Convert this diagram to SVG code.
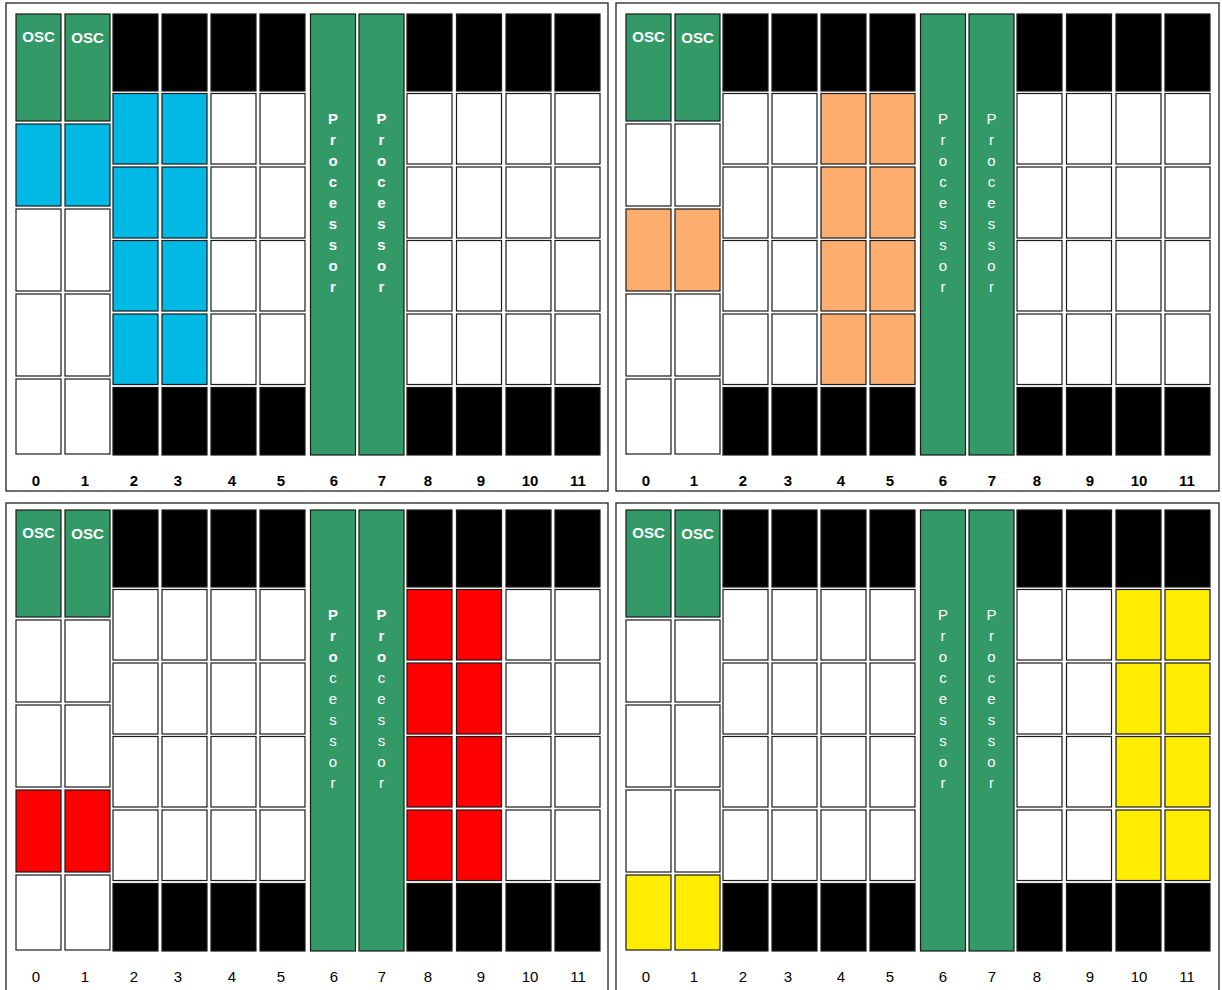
<svg xmlns="http://www.w3.org/2000/svg" width="1222" height="990" viewBox="0 0 1222 990">
<style>
.frame{fill:#fff;stroke:#222;stroke-width:1.3}
.c{stroke:#1a1a1a;stroke-width:1.2}
.w{fill:#fff}
.k{fill:#000}
.g{fill:#339966}
.b{fill:#00b9e4}
.o{fill:#fdae6f}
.r{fill:#ff0000}
.y{fill:#ffed00}
text{font-family:"Liberation Sans",Arial,sans-serif;font-size:15px;text-anchor:middle}
.osc{fill:#fff;font-weight:bold}
.pb{fill:#fff;font-weight:bold}
.pn{fill:#fff;font-weight:normal}
.lb{fill:#000;font-weight:bold}
.ln{fill:#000;font-weight:normal}
</style>
<defs>
<g id="procB">
<text class="pb" y="124">P</text><text class="pb" y="145">r</text><text class="pb" y="166">o</text><text class="pb" y="187">c</text><text class="pb" y="208">e</text><text class="pb" y="229">s</text><text class="pb" y="250">s</text><text class="pb" y="271">o</text><text class="pb" y="292">r</text>
</g>
<g id="procN">
<text class="pn" y="124">P</text><text class="pn" y="145">r</text><text class="pn" y="166">o</text><text class="pn" y="187">c</text><text class="pn" y="208">e</text><text class="pn" y="229">s</text><text class="pn" y="250">s</text><text class="pn" y="271">o</text><text class="pn" y="292">r</text>
</g>
<g id="procM">
<text class="pb" y="124">P</text><text class="pb" y="145">r</text><text class="pb" y="166">o</text><text class="pn" y="187">c</text><text class="pn" y="208">e</text><text class="pn" y="229">s</text><text class="pn" y="250">s</text><text class="pn" y="271">o</text><text class="pn" y="292">r</text>
</g>
<g id="blackrows">
<rect class="c k" x="113" y="14" width="45" height="77"/><rect class="c k" x="162" y="14" width="45" height="77"/><rect class="c k" x="211" y="14" width="45" height="77"/><rect class="c k" x="260" y="14" width="45" height="77"/>
<rect class="c k" x="407" y="14" width="45" height="77"/><rect class="c k" x="456.5" y="14" width="45" height="77"/><rect class="c k" x="506" y="14" width="45" height="77"/><rect class="c k" x="555" y="14" width="45" height="77"/>
<rect class="c k" x="113" y="387.5" width="45" height="67.5"/><rect class="c k" x="162" y="387.5" width="45" height="67.5"/><rect class="c k" x="211" y="387.5" width="45" height="67.5"/><rect class="c k" x="260" y="387.5" width="45" height="67.5"/>
<rect class="c k" x="407" y="387.5" width="45" height="67.5"/><rect class="c k" x="456.5" y="387.5" width="45" height="67.5"/><rect class="c k" x="506" y="387.5" width="45" height="67.5"/><rect class="c k" x="555" y="387.5" width="45" height="67.5"/>
<rect class="c g" x="16" y="14" width="45" height="107"/><rect class="c g" x="65" y="14" width="45" height="107"/>
<text class="osc" x="38.5" y="42">OSC</text><text class="osc" x="87.5" y="43">OSC</text>
<rect class="c g" x="310.5" y="14" width="45" height="441"/><rect class="c g" x="359" y="14" width="45" height="441"/>
</g>
</defs>

<rect class="frame" x="6" y="3" width="602" height="488"/>
<rect class="frame" x="616" y="3" width="603" height="488"/>
<rect class="frame" x="6" y="503" width="602" height="500"/>
<rect class="frame" x="616" y="503" width="603" height="500"/>

<!-- Panel top-left -->
<g id="panel-tl">
<use href="#blackrows"/>
<g id="tl-proc6"><use href="#procB" x="333"/></g>
<g id="tl-proc7"><use href="#procB" x="381.5"/></g>
<rect class="c b" x="16" y="124" width="45" height="82"/><rect class="c b" x="65" y="124" width="45" height="82"/>
<rect class="c w" x="16" y="209" width="45" height="82"/><rect class="c w" x="65" y="209" width="45" height="82"/>
<rect class="c w" x="16" y="294" width="45" height="82"/><rect class="c w" x="65" y="294" width="45" height="82"/>
<rect class="c w" x="16" y="379" width="45" height="75"/><rect class="c w" x="65" y="379" width="45" height="75"/>
<g>
<rect class="c b" x="113" y="93.5" width="45" height="70.5"/><rect class="c b" x="162" y="93.5" width="45" height="70.5"/><rect class="c w" x="211" y="93.5" width="45" height="70.5"/><rect class="c w" x="260" y="93.5" width="45" height="70.5"/>
<rect class="c w" x="407" y="93.5" width="45" height="70.5"/><rect class="c w" x="456.5" y="93.5" width="45" height="70.5"/><rect class="c w" x="506" y="93.5" width="45" height="70.5"/><rect class="c w" x="555" y="93.5" width="45" height="70.5"/>
<rect class="c b" x="113" y="167" width="45" height="71"/><rect class="c b" x="162" y="167" width="45" height="71"/><rect class="c w" x="211" y="167" width="45" height="71"/><rect class="c w" x="260" y="167" width="45" height="71"/>
<rect class="c w" x="407" y="167" width="45" height="71"/><rect class="c w" x="456.5" y="167" width="45" height="71"/><rect class="c w" x="506" y="167" width="45" height="71"/><rect class="c w" x="555" y="167" width="45" height="71"/>
<rect class="c b" x="113" y="240.5" width="45" height="70.5"/><rect class="c b" x="162" y="240.5" width="45" height="70.5"/><rect class="c w" x="211" y="240.5" width="45" height="70.5"/><rect class="c w" x="260" y="240.5" width="45" height="70.5"/>
<rect class="c w" x="407" y="240.5" width="45" height="70.5"/><rect class="c w" x="456.5" y="240.5" width="45" height="70.5"/><rect class="c w" x="506" y="240.5" width="45" height="70.5"/><rect class="c w" x="555" y="240.5" width="45" height="70.5"/>
<rect class="c b" x="113" y="314" width="45" height="70.5"/><rect class="c b" x="162" y="314" width="45" height="70.5"/><rect class="c w" x="211" y="314" width="45" height="70.5"/><rect class="c w" x="260" y="314" width="45" height="70.5"/>
<rect class="c w" x="407" y="314" width="45" height="70.5"/><rect class="c w" x="456.5" y="314" width="45" height="70.5"/><rect class="c w" x="506" y="314" width="45" height="70.5"/><rect class="c w" x="555" y="314" width="45" height="70.5"/>
</g>
<g class="labels">
<text class="lb" x="36" y="486">0</text><text class="lb" x="85" y="486">1</text><text class="lb" x="134" y="486">2</text><text class="lb" x="178" y="486">3</text><text class="lb" x="232" y="486">4</text><text class="lb" x="281" y="486">5</text><text class="lb" x="334" y="486">6</text><text class="lb" x="382" y="486">7</text><text class="lb" x="428" y="486">8</text><text class="lb" x="481" y="486">9</text><text class="lb" x="530" y="486">10</text><text class="lb" x="578" y="486">11</text>
</g>
</g>

<!-- Panel top-right -->
<g id="panel-tr" transform="translate(610,0)">
<use href="#blackrows"/>
<g id="tr-proc6"><use href="#procN" x="333"/></g>
<g id="tr-proc7"><use href="#procN" x="381.5"/></g>
<rect class="c w" x="16" y="124" width="45" height="82"/><rect class="c w" x="65" y="124" width="45" height="82"/>
<rect class="c o" x="16" y="209" width="45" height="82"/><rect class="c o" x="65" y="209" width="45" height="82"/>
<rect class="c w" x="16" y="294" width="45" height="82"/><rect class="c w" x="65" y="294" width="45" height="82"/>
<rect class="c w" x="16" y="379" width="45" height="75"/><rect class="c w" x="65" y="379" width="45" height="75"/>
<g>
<rect class="c w" x="113" y="93.5" width="45" height="70.5"/><rect class="c w" x="162" y="93.5" width="45" height="70.5"/><rect class="c o" x="211" y="93.5" width="45" height="70.5"/><rect class="c o" x="260" y="93.5" width="45" height="70.5"/>
<rect class="c w" x="407" y="93.5" width="45" height="70.5"/><rect class="c w" x="456.5" y="93.5" width="45" height="70.5"/><rect class="c w" x="506" y="93.5" width="45" height="70.5"/><rect class="c w" x="555" y="93.5" width="45" height="70.5"/>
<rect class="c w" x="113" y="167" width="45" height="71"/><rect class="c w" x="162" y="167" width="45" height="71"/><rect class="c o" x="211" y="167" width="45" height="71"/><rect class="c o" x="260" y="167" width="45" height="71"/>
<rect class="c w" x="407" y="167" width="45" height="71"/><rect class="c w" x="456.5" y="167" width="45" height="71"/><rect class="c w" x="506" y="167" width="45" height="71"/><rect class="c w" x="555" y="167" width="45" height="71"/>
<rect class="c w" x="113" y="240.5" width="45" height="70.5"/><rect class="c w" x="162" y="240.5" width="45" height="70.5"/><rect class="c o" x="211" y="240.5" width="45" height="70.5"/><rect class="c o" x="260" y="240.5" width="45" height="70.5"/>
<rect class="c w" x="407" y="240.5" width="45" height="70.5"/><rect class="c w" x="456.5" y="240.5" width="45" height="70.5"/><rect class="c w" x="506" y="240.5" width="45" height="70.5"/><rect class="c w" x="555" y="240.5" width="45" height="70.5"/>
<rect class="c w" x="113" y="314" width="45" height="70.5"/><rect class="c w" x="162" y="314" width="45" height="70.5"/><rect class="c o" x="211" y="314" width="45" height="70.5"/><rect class="c o" x="260" y="314" width="45" height="70.5"/>
<rect class="c w" x="407" y="314" width="45" height="70.5"/><rect class="c w" x="456.5" y="314" width="45" height="70.5"/><rect class="c w" x="506" y="314" width="45" height="70.5"/><rect class="c w" x="555" y="314" width="45" height="70.5"/>
</g>
<g class="labels">
<text class="lb" x="36" y="486">0</text><text class="lb" x="84" y="486">1</text><text class="lb" x="133" y="486">2</text><text class="lb" x="178" y="486">3</text><text class="lb" x="231" y="486">4</text><text class="lb" x="280" y="486">5</text><text class="lb" x="333" y="486">6</text><text class="lb" x="382" y="486">7</text><text class="lb" x="427" y="486">8</text><text class="lb" x="480" y="486">9</text><text class="lb" x="529" y="486">10</text><text class="lb" x="577" y="486">11</text>
</g>
</g>

<!-- Panel bottom-left -->
<g id="panel-bl" transform="translate(0,496)">
<use href="#blackrows"/>
<g id="bl-proc6"><use href="#procM" x="333"/></g>
<g id="bl-proc7"><use href="#procM" x="381.5"/></g>
<rect class="c w" x="16" y="124" width="45" height="82"/><rect class="c w" x="65" y="124" width="45" height="82"/>
<rect class="c w" x="16" y="209" width="45" height="82"/><rect class="c w" x="65" y="209" width="45" height="82"/>
<rect class="c r" x="16" y="294" width="45" height="82"/><rect class="c r" x="65" y="294" width="45" height="82"/>
<rect class="c w" x="16" y="379" width="45" height="75"/><rect class="c w" x="65" y="379" width="45" height="75"/>
<g>
<rect class="c w" x="113" y="93.5" width="45" height="70.5"/><rect class="c w" x="162" y="93.5" width="45" height="70.5"/><rect class="c w" x="211" y="93.5" width="45" height="70.5"/><rect class="c w" x="260" y="93.5" width="45" height="70.5"/>
<rect class="c r" x="407" y="93.5" width="45" height="70.5"/><rect class="c r" x="456.5" y="93.5" width="45" height="70.5"/><rect class="c w" x="506" y="93.5" width="45" height="70.5"/><rect class="c w" x="555" y="93.5" width="45" height="70.5"/>
<rect class="c w" x="113" y="167" width="45" height="71"/><rect class="c w" x="162" y="167" width="45" height="71"/><rect class="c w" x="211" y="167" width="45" height="71"/><rect class="c w" x="260" y="167" width="45" height="71"/>
<rect class="c r" x="407" y="167" width="45" height="71"/><rect class="c r" x="456.5" y="167" width="45" height="71"/><rect class="c w" x="506" y="167" width="45" height="71"/><rect class="c w" x="555" y="167" width="45" height="71"/>
<rect class="c w" x="113" y="240.5" width="45" height="70.5"/><rect class="c w" x="162" y="240.5" width="45" height="70.5"/><rect class="c w" x="211" y="240.5" width="45" height="70.5"/><rect class="c w" x="260" y="240.5" width="45" height="70.5"/>
<rect class="c r" x="407" y="240.5" width="45" height="70.5"/><rect class="c r" x="456.5" y="240.5" width="45" height="70.5"/><rect class="c w" x="506" y="240.5" width="45" height="70.5"/><rect class="c w" x="555" y="240.5" width="45" height="70.5"/>
<rect class="c w" x="113" y="314" width="45" height="70.5"/><rect class="c w" x="162" y="314" width="45" height="70.5"/><rect class="c w" x="211" y="314" width="45" height="70.5"/><rect class="c w" x="260" y="314" width="45" height="70.5"/>
<rect class="c r" x="407" y="314" width="45" height="70.5"/><rect class="c r" x="456.5" y="314" width="45" height="70.5"/><rect class="c w" x="506" y="314" width="45" height="70.5"/><rect class="c w" x="555" y="314" width="45" height="70.5"/>
</g>
<g class="labels">
<text class="ln" x="36" y="486">0</text><text class="ln" x="85" y="486">1</text><text class="ln" x="134" y="486">2</text><text class="ln" x="178" y="486">3</text><text class="ln" x="232" y="486">4</text><text class="ln" x="281" y="486">5</text><text class="ln" x="334" y="486">6</text><text class="ln" x="382" y="486">7</text><text class="ln" x="428" y="486">8</text><text class="ln" x="481" y="486">9</text><text class="ln" x="530" y="486">10</text><text class="ln" x="578" y="486">11</text>
</g>
</g>

<!-- Panel bottom-right -->
<g id="panel-br" transform="translate(610,496)">
<use href="#blackrows"/>
<g id="br-proc6"><use href="#procN" x="333"/></g>
<g id="br-proc7"><use href="#procN" x="381.5"/></g>
<rect class="c w" x="16" y="124" width="45" height="82"/><rect class="c w" x="65" y="124" width="45" height="82"/>
<rect class="c w" x="16" y="209" width="45" height="82"/><rect class="c w" x="65" y="209" width="45" height="82"/>
<rect class="c w" x="16" y="294" width="45" height="82"/><rect class="c w" x="65" y="294" width="45" height="82"/>
<rect class="c y" x="16" y="379" width="45" height="75"/><rect class="c y" x="65" y="379" width="45" height="75"/>
<g>
<rect class="c w" x="113" y="93.5" width="45" height="70.5"/><rect class="c w" x="162" y="93.5" width="45" height="70.5"/><rect class="c w" x="211" y="93.5" width="45" height="70.5"/><rect class="c w" x="260" y="93.5" width="45" height="70.5"/>
<rect class="c w" x="407" y="93.5" width="45" height="70.5"/><rect class="c w" x="456.5" y="93.5" width="45" height="70.5"/><rect class="c y" x="506" y="93.5" width="45" height="70.5"/><rect class="c y" x="555" y="93.5" width="45" height="70.5"/>
<rect class="c w" x="113" y="167" width="45" height="71"/><rect class="c w" x="162" y="167" width="45" height="71"/><rect class="c w" x="211" y="167" width="45" height="71"/><rect class="c w" x="260" y="167" width="45" height="71"/>
<rect class="c w" x="407" y="167" width="45" height="71"/><rect class="c w" x="456.5" y="167" width="45" height="71"/><rect class="c y" x="506" y="167" width="45" height="71"/><rect class="c y" x="555" y="167" width="45" height="71"/>
<rect class="c w" x="113" y="240.5" width="45" height="70.5"/><rect class="c w" x="162" y="240.5" width="45" height="70.5"/><rect class="c w" x="211" y="240.5" width="45" height="70.5"/><rect class="c w" x="260" y="240.5" width="45" height="70.5"/>
<rect class="c w" x="407" y="240.5" width="45" height="70.5"/><rect class="c w" x="456.5" y="240.5" width="45" height="70.5"/><rect class="c y" x="506" y="240.5" width="45" height="70.5"/><rect class="c y" x="555" y="240.5" width="45" height="70.5"/>
<rect class="c w" x="113" y="314" width="45" height="70.5"/><rect class="c w" x="162" y="314" width="45" height="70.5"/><rect class="c w" x="211" y="314" width="45" height="70.5"/><rect class="c w" x="260" y="314" width="45" height="70.5"/>
<rect class="c w" x="407" y="314" width="45" height="70.5"/><rect class="c w" x="456.5" y="314" width="45" height="70.5"/><rect class="c y" x="506" y="314" width="45" height="70.5"/><rect class="c y" x="555" y="314" width="45" height="70.5"/>
</g>
<g class="labels">
<text class="ln" x="36" y="486">0</text><text class="ln" x="84" y="486">1</text><text class="ln" x="133" y="486">2</text><text class="ln" x="178" y="486">3</text><text class="ln" x="231" y="486">4</text><text class="ln" x="280" y="486">5</text><text class="ln" x="333" y="486">6</text><text class="ln" x="382" y="486">7</text><text class="ln" x="427" y="486">8</text><text class="ln" x="480" y="486">9</text><text class="ln" x="529" y="486">10</text><text class="ln" x="577" y="486">11</text>
</g>
</g>
</svg>
